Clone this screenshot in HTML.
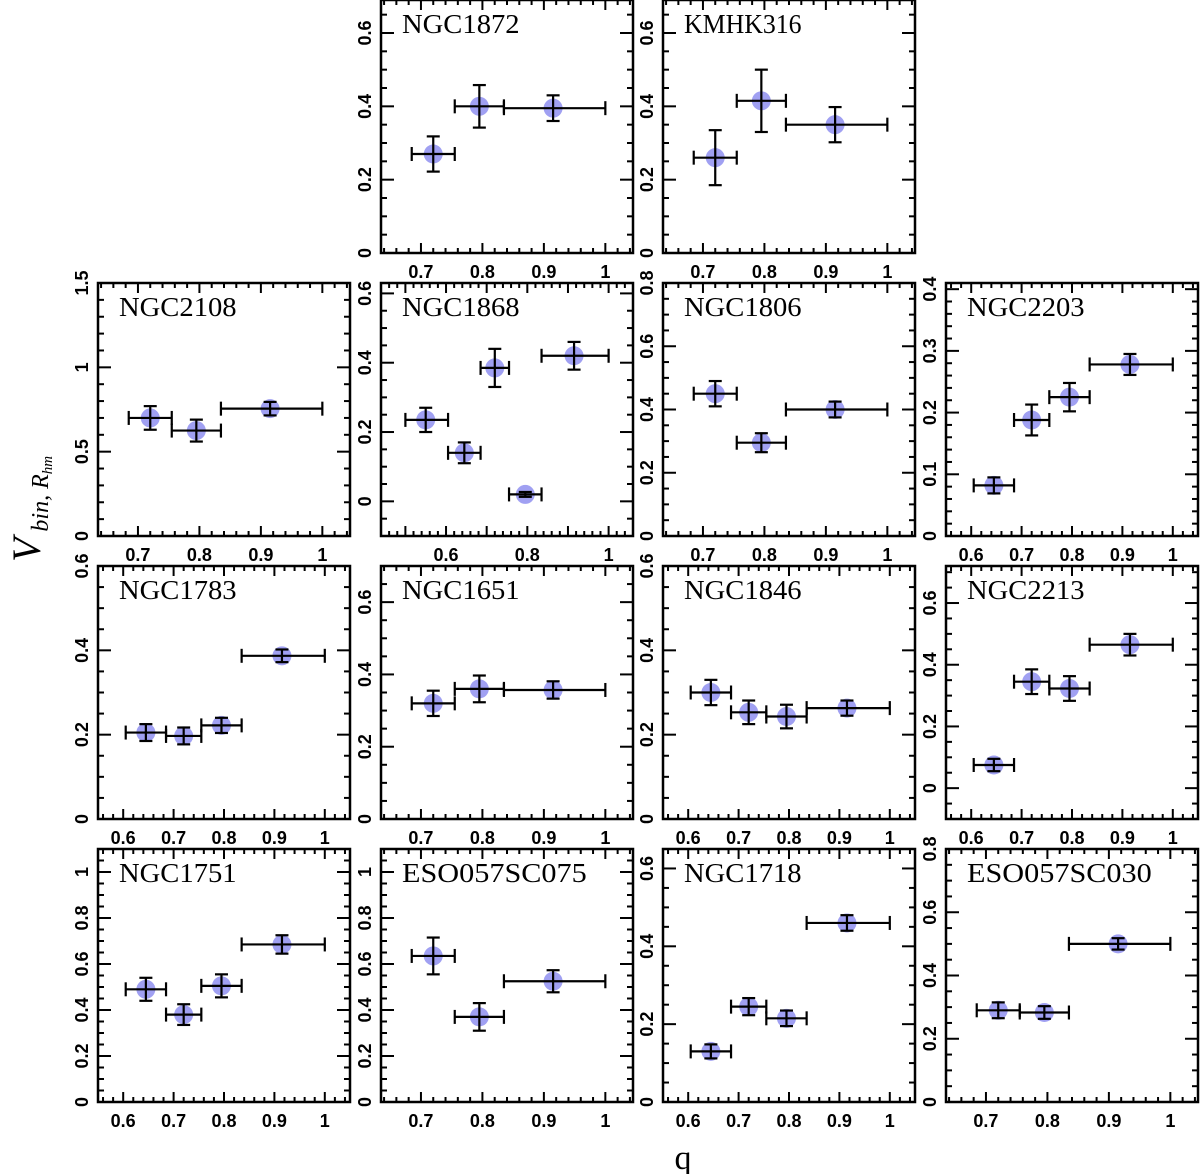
<!DOCTYPE html>
<html><head><meta charset="utf-8"><title>Vbin vs q</title>
<style>
html,body{margin:0;padding:0;background:#fff;}
svg{display:block;}
.tk{font-family:"Liberation Sans",sans-serif;font-weight:bold;font-size:18px;fill:#000;}
.ttl{font-family:"Liberation Serif",serif;font-size:27px;fill:#000;}
</style></head>
<body>
<svg id="chart" width="1200" height="1174" xmlns="http://www.w3.org/2000/svg">
<g id="panels"></g>
<text x="683" y="1169" text-anchor="middle" font-family="Liberation Serif, serif" font-size="34">q</text>
<text transform="translate(40,562) rotate(-90)" font-family="Liberation Serif, serif" font-style="italic"><tspan font-size="40">V</tspan><tspan font-size="24" dy="8"> bin, R</tspan><tspan font-size="15" dy="4">hm</tspan></text>
</svg>
<script>
// ---- data ----
const panelNames = ["NGC1872","KMHK316","NGC2108","NGC1868","NGC1806","NGC2203","NGC1783","NGC1651","NGC1846","NGC2213","NGC1751","ESO057SC075","NGC1718","ESO057SC030"];
const binCenters = [0.55,0.645,0.72,0.795,0.915];
const binLow     = [0.5,0.605,0.685,0.755,0.835];
const binHigh    = [0.605,0.685,0.755,0.835,1.0];
const panelBins = [[2,3,4],[2,3,4],[2,3,4],[0,1,2,3,4],[2,3,4],[1,2,3,4],[1,2,3,4],[2,3,4],[1,2,3,4],[1,2,3,4],[1,2,3,4],[2,3,4],[1,2,3,4],[2,3,4]];
const panelY = [
 [0.27,0.40,0.395],
 [0.26,0.415,0.35],
 [0.70,0.625,0.755],
 [0.235,0.14,0.385,0.02,0.42],
 [0.45,0.295,0.40],
 [0.082,0.188,0.225,0.278],
 [0.205,0.197,0.222,0.387],
 [0.32,0.36,0.357],
 [0.30,0.253,0.243,0.263],
 [0.075,0.345,0.323,0.465],
 [0.49,0.38,0.505,0.685],
 [0.635,0.37,0.525],
 [0.13,0.245,0.215,0.46],
 [0.29,0.283,0.50]];
const panelYErr = [
 [0.048,0.058,0.035],
 [0.075,0.085,0.048],
 [0.07,0.065,0.04],
 [0.035,0.03,0.055,0.007,0.04],
 [0.04,0.03,0.025],
 [0.013,0.025,0.023,0.017],
 [0.02,0.02,0.018,0.015],
 [0.035,0.037,0.024],
 [0.03,0.028,0.028,0.018],
 [0.02,0.04,0.04,0.035],
 [0.05,0.045,0.05,0.04],
 [0.08,0.06,0.048],
 [0.018,0.022,0.02,0.02],
 [0.025,0.02,0.018]];
const yRanges = [[0,0.69],[0,0.69],[0,1.5],[-0.1,0.63],[0,0.8],[0,0.41],[0,0.6],[0,0.7],[0,0.6],[-0.1,0.72],[0,1.1],[0,1.1],[0,0.65],[0,0.8]];
const yMajor  = [0.2,0.2,0.5,0.2,0.2,0.1,0.2,0.2,0.2,0.2,0.2,0.2,0.2,0.2];
const yMinor  = [0.05,0.05,0.1,0.05,0.05,0.02,0.05,0.05,0.05,0.05,0.05,0.05,0.05,0.05];
const xRanges = [[0.635,1.045],[0.635,1.045],[0.635,1.045],[0.44,1.06],[0.635,1.045],[0.55,1.05],[0.55,1.05],[0.635,1.045],[0.55,1.05],[0.55,1.05],[0.55,1.05],[0.635,1.045],[0.55,1.05],[0.635,1.045]];
const xLabelStep = [0.1,0.1,0.1,0.2,0.1,0.1,0.1,0.1,0.1,0.1,0.1,0.1,0.1,0.1];
// ---- layout ----
const colLeft = [98,381,663,946], rowTop = [0,283,566,849], W = 252, H = 253;
const slots = [[0,1],[0,2],[1,0],[1,1],[1,2],[1,3],[2,0],[2,1],[2,2],[2,3],[3,0],[3,1],[3,2],[3,3]];
const NS = "http://www.w3.org/2000/svg";
function mk(tag, attrs, parent){const e=document.createElementNS(NS,tag);for(const k in attrs)e.setAttribute(k,attrs[k]);parent.appendChild(e);return e;}
function fmt(v){return (Math.round(v*100)/100).toString();}
const root = document.getElementById("panels");
panelNames.forEach((name,p)=>{
  const L = colLeft[slots[p][1]], T = rowTop[slots[p][0]];
  const [x0,x1] = xRanges[p], [y0,y1] = yRanges[p];
  const sx = v => L + (v-x0)/(x1-x0)*W;
  const sy = v => T + H - (v-y0)/(y1-y0)*H;
  const g = mk("g",{},root);
  
  
  const tk = mk("g",{stroke:"#000","stroke-width":2},g);
  
  
  const xm = 0.02;
  for(let i=Math.ceil(x0/xm-1e-6); i*xm<=x1+1e-9; i++){
    const v=i*xm, X=sx(v); const major = Math.abs(v*10-Math.round(v*10))<1e-6; const len = major?10:5;
    mk("line",{x1:X,x2:X,y1:T+H,y2:T+H-len},tk); mk("line",{x1:X,x2:X,y1:T,y2:T+len},tk);
  }
  const ym = yMinor[p], yM = yMajor[p];
  for(let i=Math.ceil(y0/ym-1e-6); i*ym<=y1+1e-9; i++){
    const v=i*ym, Y=sy(v); const major = Math.abs(v/yM-Math.round(v/yM))<1e-6; const len = major?13:6;
    mk("line",{x1:L,x2:L+len,y1:Y,y2:Y},tk); mk("line",{x1:L+W,x2:L+W-len,y1:Y,y2:Y},tk);
    if(major){
      const t = mk("text",{class:"tk","text-anchor":"middle",transform:`translate(${L-10},${Y}) rotate(-90)`},g);
      t.textContent = fmt(v);
      
      
    }
  }
  const xs = xLabelStep[p];
  for(let i=Math.ceil(x0/xs-1e-6); i*xs<=x1+1e-9; i++){
    const v=i*xs;
    const t = mk("text",{class:"tk","text-anchor":"middle",x:sx(v),y:T+H+25},g);
    t.textContent = fmt(v);
    
    
  }
  const frame = mk("rect",{x:L,y:T,width:W,height:H,fill:"none",stroke:"#000","stroke-width":2.5},g);
  
  
  const title = mk("text",{class:"ttl",x:L+21,y:T+33,textLength:name.length*16.8,lengthAdjust:"spacingAndGlyphs"},g);
  title.textContent = name;
  
  
  panelBins[p].forEach((b,k)=>{
    const X = sx(binCenters[b]), Y = sy(panelY[p][k]);
    const c = mk("circle",{cx:X,cy:Y,r:9.5,fill:"#a0a0f2"},g);
    
    
    const eb = mk("g",{stroke:"#000","stroke-width":2.2,fill:"none"},g);
    
    
    const xa = sx(binLow[b]), xb = sx(binHigh[b]);
    const ya = sy(panelY[p][k]-panelYErr[p][k]), yb = sy(panelY[p][k]+panelYErr[p][k]);
    mk("line",{x1:xa,x2:xb,y1:Y,y2:Y},eb);
    mk("line",{x1:xa,x2:xa,y1:Y-7,y2:Y+7},eb);
    mk("line",{x1:xb,x2:xb,y1:Y-7,y2:Y+7},eb);
    mk("line",{x1:X,x2:X,y1:ya,y2:yb},eb);
    mk("line",{x1:X-6.5,x2:X+6.5,y1:ya,y2:ya},eb);
    mk("line",{x1:X-6.5,x2:X+6.5,y1:yb,y2:yb},eb);
  });
});
</script>
</body></html>
